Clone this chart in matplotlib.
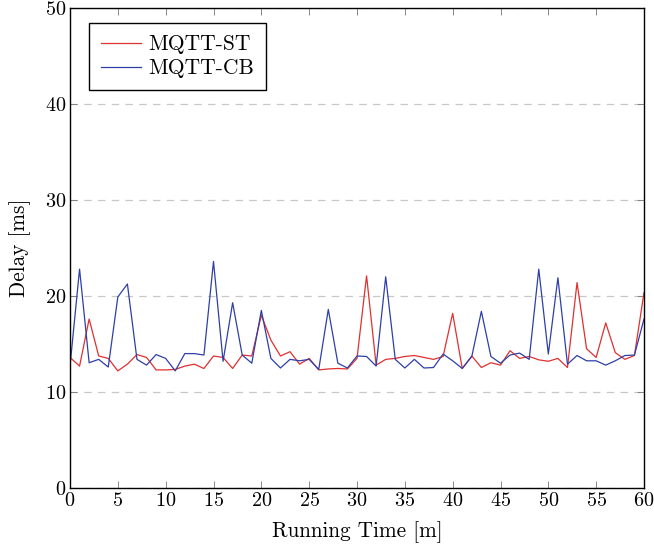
import numpy as np
import matplotlib.pyplot as plt

# running time in minutes
time_m = list(range(61))

# delay in ms
delay_st = [13.6, 12.7, 17.6, 13.75, 13.5, 12.2, 12.9, 13.9, 13.6, 12.3,
            12.3, 12.35, 12.7, 12.9, 12.45, 13.75, 13.6, 12.45, 13.85, 13.75,
            18.0, 15.4, 13.75, 14.2, 12.9, 13.5, 12.3, 12.4, 12.45, 12.4,
            13.5, 22.1, 12.8, 13.4, 13.5, 13.7, 13.8, 13.6, 13.4, 13.7,
            18.2, 12.45, 13.75, 12.55, 13.05, 12.8, 14.3, 13.5, 13.7, 13.35,
            13.2, 13.5, 12.55, 21.4, 14.5, 13.6, 17.2, 14.1, 13.4, 13.8,
            20.35]
delay_cb = [12.7, 22.8, 13.05, 13.4, 12.6, 19.9, 21.25, 13.4, 12.8, 13.9,
            13.5, 12.2, 14.0, 14.0, 13.85, 23.6, 13.2, 19.3, 13.85, 13.0,
            18.5, 13.5, 12.5, 13.4, 13.25, 13.4, 12.35, 18.6, 13.0, 12.5,
            13.75, 13.7, 12.7, 22.0, 13.4, 12.5, 13.4, 12.5, 12.55, 13.95,
            13.25, 12.45, 13.7, 18.4, 13.7, 13.0, 13.85, 14.05, 13.4, 22.8,
            13.95, 21.9, 12.9, 13.8, 13.25, 13.25, 12.8, 13.25, 13.8, 13.85,
            17.6]

x_ticks = list(range(0, 61, 5))
y_ticks = list(range(0, 51, 10))

plt.rcParams['font.family'] = 'serif'
plt.rcParams['font.serif'] = ['cmr10', 'DejaVu Serif']
plt.rcParams['axes.formatter.use_mathtext'] = True

fig = plt.figure(figsize=(6.54, 5.49), dpi=100)
ax = fig.add_axes([70 / 654, 1 - 488 / 549, 574 / 654, 480 / 549])

ax.plot(time_m, delay_st, color='#e03030', lw=0.9, label='MQTT-ST')
ax.plot(time_m, delay_cb, color='#2e3fa8', lw=0.9, label='MQTT-CB')

ax.set_xlim(0, 60)
ax.set_ylim(0, 50)
ax.set_xticks(x_ticks)
ax.set_yticks(y_ticks)
ax.tick_params(direction='in', length=5, width=0.6, color='#777777',
               top=True, right=True, labelsize=14.5, pad=3)
ax.yaxis.grid(True, linestyle=(0, (6, 5)), color='#c8c8c8', lw=0.9)
ax.set_axisbelow(True)
for s in ax.spines.values():
    s.set_linewidth(1.0)

ax.set_xlabel('Running Time [m]', fontsize=15.3, labelpad=8)
ax.set_ylabel('Delay [ms]', fontsize=15.3, labelpad=10)

leg = ax.legend(loc='upper left', bbox_to_anchor=(19 / 574, 1 - 15 / 480),
                fontsize=15.5, frameon=True, fancybox=False, framealpha=1,
                edgecolor='black', handlelength=1.85, handletextpad=0.35,
                borderpad=0.55, labelspacing=0.2, borderaxespad=0)
leg.get_frame().set_linewidth(1.0)

fig.savefig('out.png', dpi=100)
